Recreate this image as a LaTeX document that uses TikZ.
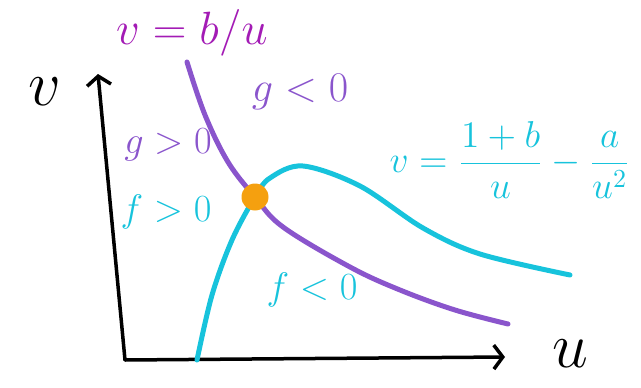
\documentclass[tikz,border=0pt]{standalone}
\usepackage{amsmath}
\usepackage{xcolor}
\usepackage{tikz}
\usetikzlibrary{arrows.meta, positioning}

\definecolor{nullg}{HTML}{8A55CC}
\definecolor{nullf}{HTML}{17C3DC}
\definecolor{bulabel}{HTML}{A31BB5}
\definecolor{fixorange}{HTML}{F5A00F}

\begin{document}
\begin{tikzpicture}[x=1pt, y=-1pt,
    axis/.style={line width=3.5pt, line cap=round, -{Straight Barb[length=9pt,width=24pt,line width=3.5pt]}},
    gcurve/.style={line width=5pt, nullg, line cap=round},
    fcurve/.style={line width=5pt, nullf, line cap=round},
    big/.style={font=\huge, scale=1.85, transform shape},
    axlabel/.style={font=\huge, scale=3.1, transform shape},
    eqn/.style={font=\Large, scale=2.6, transform shape}]
  \useasboundingbox (0,0) rectangle (641,388);

  % axes
  \coordinate (O) at (125,360);
  \coordinate (vtop) at (98,74);
  \coordinate (uend) at (505,357);
  \draw[axis] (O) -- (vtop);
  \draw[axis] (O) -- (uend);
  \node[axlabel] (vlab) at (45,92) {$v$};
  \node[axlabel] (ulab) at (570,354) {$u$};

  % nullclines
  \draw[gcurve] plot[smooth, tension=0.6] coordinates {(187,62) (205,115) (228,162) (255,197) (283,227) (350,267) (400,290) (455,310) (508,324)};
  \draw[fcurve] plot[smooth, tension=0.55] coordinates {(197,360) (212,295) (232,240) (255,197) (270,178) (303,166) (360,186) (423,228) (480,254) (570,275)};

  % fixed point
  \node[circle, fill=fixorange, minimum size=27pt, inner sep=0pt] (fixpt) at (255,197) {};

  % labels
  \node[bulabel, font=\huge, scale=2.25, transform shape] (gnull) at (192,33) {$v=b/u$};
  \node[big, nullg, scale=1.1] (gneg) at (300,92) {$g<0$};
  \node[big, nullg] (gpos) at (168,145) {$g>0$};
  \node[big, nullf] (fpos) at (166,212) {$f>0$};
  \node[big, nullf] (fneg) at (312,290) {$f<0$};
  \node[eqn, nullf] (fnull) at (510,160) {$v=\dfrac{1+b}{u}-\dfrac{a}{u^2}$};
\end{tikzpicture}
\end{document}
